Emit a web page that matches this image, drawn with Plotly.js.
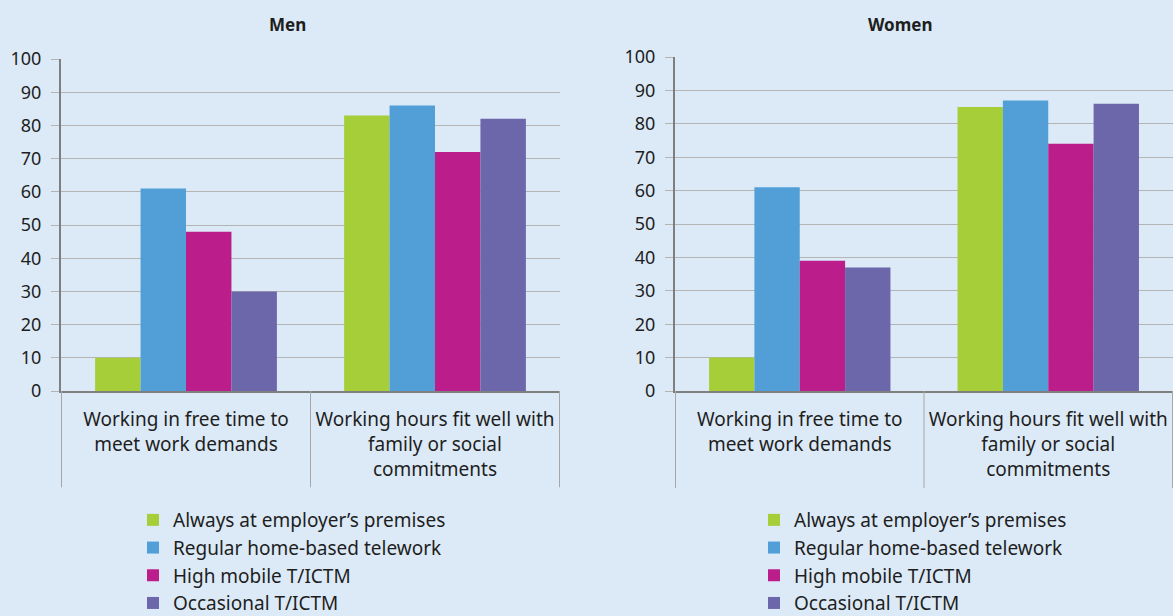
<!DOCTYPE html>
<html>
<head>
<meta charset="utf-8">
<script src="https://cdn.plot.ly/plotly-3.0.1.min.js"></script>
<style>
  html, body { margin: 0; padding: 0; background: #DCEAF7; }
  #chart { width: 1173px; height: 616px; }
</style>
</head>
<body>
<div id="chart"></div>
<script>
// ---- Data ----
const categories = [
  "Working in free time to<br>meet work demands",
  "Working hours fit well with<br>family or social<br>commitments"
];
const seriesNames = [
  "Always at employer\u2019s premises",
  "Regular home-based telework",
  "High mobile T/ICTM",
  "Occasional T/ICTM"
];
const seriesColors = ["#A6CE39", "#529FD7", "#BB1E8A", "#6C66AA"];

// Men values per series [free time, fit well]
const menAlways   = [10, 83];
const menRegular  = [61, 86];
const menHigh     = [48, 72];
const menOccas    = [30, 82];

// Women values per series [free time, fit well]
const womenAlways  = [10, 85];
const womenRegular = [61, 87];
const womenHigh    = [39, 74];
const womenOccas   = [37, 86];

const yTicks = [0, 10, 20, 30, 40, 50, 60, 70, 80, 90, 100];

const menSeries = [menAlways, menRegular, menHigh, menOccas];
const womenSeries = [womenAlways, womenRegular, womenHigh, womenOccas];

const FONT = "'Noto Sans', sans-serif";
const TXT = "#1E1E1E";
const traces = [];
menSeries.forEach((vals, i) => {
  traces.push({
    type: "bar", x: categories, y: vals, name: seriesNames[i],
    marker: { color: seriesColors[i] },
    xaxis: "x", yaxis: "y", legend: "legend", legendgroup: "m" + i,
    hoverinfo: "y+name"
  });
});
womenSeries.forEach((vals, i) => {
  traces.push({
    type: "bar", x: categories, y: vals, name: seriesNames[i],
    marker: { color: seriesColors[i] },
    xaxis: "x2", yaxis: "y2", legend: "legend2", legendgroup: "w" + i,
    hoverinfo: "y+name"
  });
});

function yAxis(domain, anchor) {
  return {
    domain: domain, anchor: anchor, range: [0, 100], tickvals: yTicks,
    showgrid: true, gridcolor: "#B4B4B4", gridwidth: 1,
    showline: true, linecolor: "#7F7F7F", linewidth: 2,
    ticks: "outside", ticklen: 8, tickcolor: "#B4B4B4",
    ticklabelstandoff: 6,
    zeroline: false, fixedrange: true, automargin: false,
    tickfont: { family: FONT, size: 18, color: TXT }
  };
}
function xAxis(domain, anchor) {
  return {
    domain: domain, anchor: anchor, type: "category",
    showline: true, linecolor: "#7F7F7F", linewidth: 1.5,
    ticks: "", showgrid: false, fixedrange: true, automargin: false,
    ticklabelstandoff: 11,
    tickfont: { family: FONT, size: 19, color: TXT }
  };
}

// divider lines under category axes at category boundaries
const shapes = [];
["x", "x2"].forEach(ax => {
  const yref = ax === "x" ? "y domain" : "y2 domain";
  for (let k = 0; k <= categories.length; k++) {
    shapes.push({
      type: "line", xref: ax, yref: yref,
      x0: k - 0.5, x1: k - 0.5, y0: 0, y1: -0.29,
      line: { color: "#A6A6A6", width: 1 }
    });
  }
});

const legendBase = {
  orientation: "v", xanchor: "left", yanchor: "top",
  bgcolor: "rgba(0,0,0,0)", itemwidth: 30, tracegroupgap: 0,
  font: { family: FONT, size: 19, color: TXT },
  itemclick: false, itemdoubleclick: false
};

const layout = {
  width: 1173, height: 616,
  paper_bgcolor: "#DCEAF7", plot_bgcolor: "#DCEAF7",
  margin: { l: 0, r: 0, t: 0, b: 0, autoexpand: false },
  barmode: "group", bargap: 0.27, bargroupgap: 0,
  xaxis: xAxis([61 / 1173, 560 / 1173], "y"),
  yaxis: yAxis([225 / 616, 557 / 616], "x"),
  xaxis2: xAxis([675 / 1173, 1], "y2"),
  yaxis2: yAxis([225 / 616, 559 / 616], "x2"),
  showlegend: true,
  legend: Object.assign({}, legendBase, { x: 133 / 1173, y: 115 / 616 }),
  legend2: Object.assign({}, legendBase, { x: 754 / 1173, y: 115 / 616 }),
  shapes: shapes,
  annotations: [
    { text: "<b>Men</b>", xref: "paper", yref: "paper", x: 287 / 1173, y: 592 / 616,
      xanchor: "center", yanchor: "middle", showarrow: false,
      font: { family: FONT, size: 17, color: TXT } },
    { text: "<b>Women</b>", xref: "paper", yref: "paper", x: 900 / 1173, y: 592 / 616,
      xanchor: "center", yanchor: "middle", showarrow: false,
      font: { family: FONT, size: 17, color: TXT } }
  ]
};

Plotly.newPlot("chart", traces, layout, { displayModeBar: false, staticPlot: true });
</script>
</body>
</html>
